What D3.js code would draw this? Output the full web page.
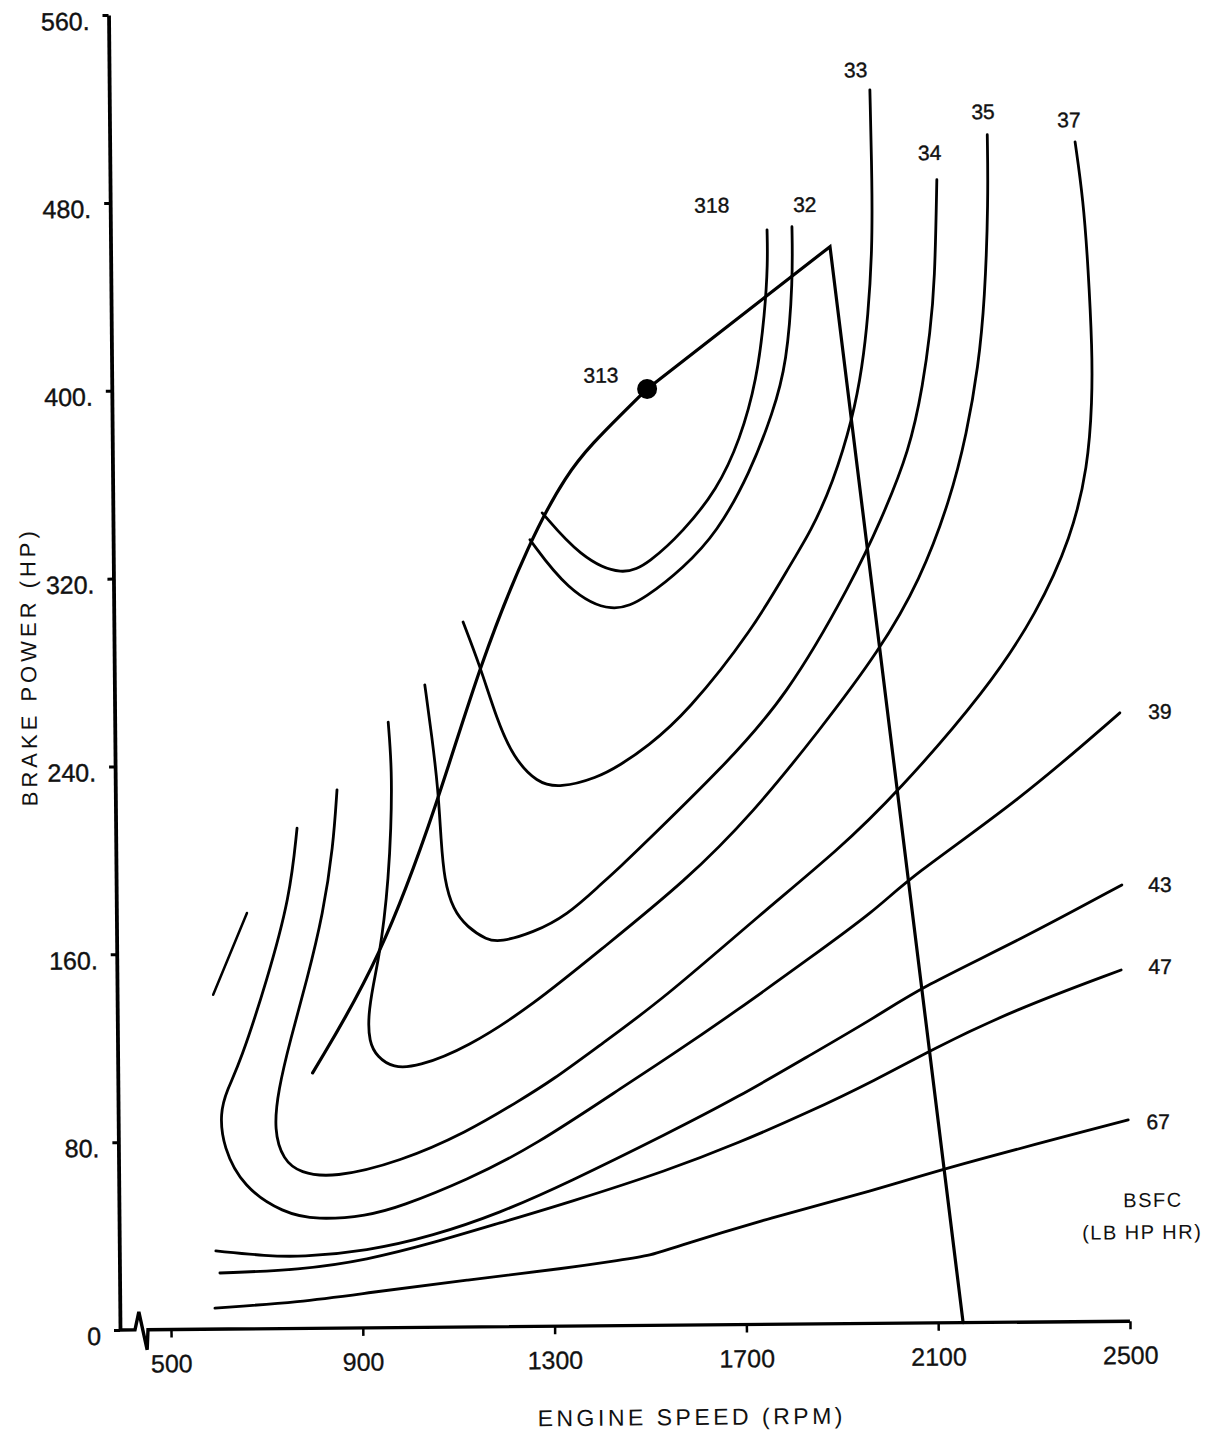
<!DOCTYPE html>
<html>
<head>
<meta charset="utf-8">
<script src="https://cdn.jsdelivr.net/npm/d3@7"></script>
<style>
html, body { margin: 0; padding: 0; background: #ffffff; }
svg { display: block; }
text { font-family: "Liberation Sans", Arial, Helvetica, sans-serif; fill: #111; }
</style>
</head>
<body>
<svg id="chart" width="1215" height="1435"></svg>
<script>
// ---------------- DATA (engine speed in RPM, brake power in HP) ----------------
const xTicks = [500, 900, 1300, 1700, 2100, 2500];
const yTicks = [0, 80, 160, 240, 320, 400, 480, 560];

const bsfcLabels = ["318", "32", "33", "34", "35", "37", "39", "43", "47", "67"];

const c318 = [[1289,346.4],[1367,327.5],[1456,318.8],[1513,325],[1582,337.8],[1654,355.6],
  [1703,376.8],[1739,402.2],[1757,430.7],[1764,452],[1763,466.1]];
const c32 = [[1263,335],[1339,313.5],[1435,302.7],[1506,310.2],[1582,322.4],[1653,337.2],
  [1723,362.7],[1772,388.2],[1802,409.3],[1816,444.7],[1815,467.3]];
const c33 = [[1122,300.2],[1157,281.1],[1191,258.4],[1224,242.5],[1273,231.4],[1321,229.2],
  [1398,233.3],[1447,238.7],[1503,246.3],[1587,260.7],[1726,295.8],[1811,325.4],[1847,336.8],
  [1896,358],[1939,386.1],[1959,407.3],[1972,428.6],[1982,457.2],[1983,485.7],[1980,525.3]];
const c34 = [[1041,273.6],[1055,251.4],[1067,228.8],[1072,207.5],[1078,190.5],[1096,177.7],
  [1125,170.3],[1166,164.7],[1193,163.8],[1262,167.6],[1334,175],[1403,187.7],[1445,195.3],
  [1508,207.5],[1655,236.3],[1796,267.1],[1936,316.7],[1993,340.9],[2057,371.9],[2086,400.3],
  [2101,421.6],[2112,442.9],[2118,486.8]];
const c35 = [[964,257.9],[971,237.5],[968,212],[961,190.7],[952,173.6],[941,158.7],[928,146],
  [917,133.3],[918,121.8],[935,115.3],[968,110.6],[1018,110.9],[1122,118.8],[1261,136.9],
  [1402,160],[1584,189.6],[1723,217.8],[1864,252.9],[1991,286.8],[2076,316.4],[2140,350.4],
  [2176,378.8],[2201,406.9],[2216,435.5],[2225,478.1],[2224,505.8]];
const c37 = [[856,229.2],[847,204.9],[825,176.8],[790,148.4],[754,122.9],[728,101.6],[718,84.6],
  [737,71.8],[772,66.2],[841,63.9],[981,70.6],[1121,83],[1226,95.6],[1301,104.9],[1400,119.6],
  [1530,138.5],[1740,175.2],[1900,201.7],[2024,225.8],[2213,269.4],[2319,302],[2392,334],
  [2428,364],[2438,392.5],[2439,413.8],[2432,449.1],[2423,477.7],[2407,502.4]];
const c39 = [[772,213.1],[756,183.8],[707,148.6],[649,113.3],[621,101.8],[606,92],[612,77.5],
  [653,60.4],[736,49.2],[807,46.1],[911,47.7],[980,51.4],[1120,62.6],[1258,76.4],[1462,103.7],
  [1544,114.3],[1688,134],[1833,155],[1978,176.1],[2047,189.6],[2280,222.4],[2490,259.1]];
const c43 = [[595,33.3],[702,31],[770,30.4],[910,32.7],[1048,38.9],[1188,48.4],[1329,60.9],
  [1542,81.9],[1687,96.9],[1831,113.7],[1976,130.5],[2072,143.1],[2278,162.8],[2491,185.8]];
const c47 = [[603,23.9],[770,24.9],[910,28.9],[1048,35.9],[1188,44.2],[1328,52.4],[1542,66.1],
  [1686,77.3],[1830,89.8],[1975,103.7],[2090,116.3],[2264,133],[2488,149.6]];
const c67 = [[592,9],[770,11.2],[910,14.9],[1118,20],[1327,24.7],[1438,27.9],[1505,29.9],
  [1540,32.5],[1756,45.7],[1973,56.8],[2117,65.9],[2500,85.7]];

// short unlabeled contour fragment at low speed
const fragment = [[594,142.4],[666,177.1]];

// full-load (maximum power) line: rising part, then straight part to the peak and down
const fullLoadRise = [[800,108.8],[943,156.6],[1066,223.3],[1157,282.7],[1263,335],
  [1342,363.3],[1396,376],[1459,388.7],[1510,398.8]];
const fullLoadTop = [[1510,398.8],[1894,458.7],[2152,0]];

// minimum BSFC point
const bestPoint = [1510, 398.8];
const bestLabel = "313";

// ---------------- LAYOUT ----------------
const contours = [c318, c32, c33, c34, c35, c37, c39, c43, c47, c67];
// label offsets (pixels) from the labelled end of each contour
const labelOffsets = [[-55,-25],[13,-22],[-14,-20],[-7,-27],[-4,-23],[-6,-22],
  [40,-1],[38,0],[39,-3],[30,2]];

const svg = d3.select("#chart");
const x = d3.scaleLinear().domain([500, 2500]).range([171, 1130]);
const y = d3.scaleLinear().domain([0, 560]).range([1330, 15]);
const x0 = x.range()[0] - 51;   // axis corner
const yb = y(0);

// slight tilt of the whole figure, as in the scanned original
const g = svg.append("g").attr("transform", `rotate(-0.5, ${x0}, ${yb})`);

const smooth = d3.line().x(d => x(d[0])).y(d => y(d[1])).curve(d3.curveBasis);
const straight = d3.line().x(d => x(d[0])).y(d => y(d[1]));

const FONT = '"Liberation Sans", Arial, sans-serif';

// ---- axes ----
const yAxis = d3.axisLeft(y).tickValues(yTicks).tickSize(6).tickSizeOuter(0).tickPadding(13)
  .tickFormat(d => d === 0 ? "0" : d + ".");
const ya = g.append("g").attr("transform", `translate(${x0},0)`).call(yAxis)
  .attr("font-family", FONT).attr("font-size", 25);
ya.select(".domain").attr("stroke", "#000").attr("stroke-width", 3.8);
ya.selectAll(".tick line").attr("stroke", "#000").attr("stroke-width", 3);
ya.selectAll(".tick text").attr("dy", "0.57em").attr("fill", "#111")
  .attr("stroke", "#111").attr("stroke-width", 0.4);

const xAxis = d3.axisBottom(x).tickValues(xTicks).tickSize(8).tickSizeOuter(0).tickPadding(17)
  .tickFormat(d3.format("d"));
const xa = g.append("g").attr("transform", `translate(0,${yb})`).call(xAxis)
  .attr("font-family", FONT).attr("font-size", 25);
xa.select(".domain").remove();
xa.selectAll(".tick line").attr("stroke", "#000").attr("stroke-width", 2.5);
xa.selectAll(".tick text").attr("fill", "#111").attr("stroke", "#111").attr("stroke-width", 0.3);

// x axis line with break symbol near the origin
g.append("path")
  .attr("d", d3.line()([[x0 - 1, yb], [x0 + 15, yb], [x0 + 19, yb - 18], [x0 + 27, yb + 20],
                        [x0 + 28, yb], [x(2500), yb]]))
  .attr("fill", "none").attr("stroke", "#000").attr("stroke-width", 3.4)
  .attr("stroke-linejoin", "miter");

// ---- contours ----
g.selectAll("path.contour").data(contours).join("path")
  .attr("class", "contour")
  .attr("d", smooth)
  .attr("fill", "none").attr("stroke", "#000").attr("stroke-width", 2.8)
  .attr("stroke-linecap", "round").attr("stroke-linejoin", "round");

g.append("path").attr("d", straight(fragment))
  .attr("fill", "none").attr("stroke", "#000").attr("stroke-width", 2.5).attr("stroke-linecap", "round");

// ---- full-load line ----
g.append("path").attr("d", smooth(fullLoadRise))
  .attr("fill", "none").attr("stroke", "#000").attr("stroke-width", 3.2).attr("stroke-linecap", "round");
g.append("path").attr("d", straight(fullLoadTop))
  .attr("fill", "none").attr("stroke", "#000").attr("stroke-width", 3.2)
  .attr("stroke-linejoin", "miter").attr("stroke-linecap", "round");

// ---- best point ----
g.append("circle").attr("cx", x(bestPoint[0])).attr("cy", y(bestPoint[1])).attr("r", 10).attr("fill", "#000");
g.append("text").attr("x", x(bestPoint[0]) - 46).attr("y", y(bestPoint[1]) - 14)
  .attr("dy", "0.35em").attr("text-anchor", "middle").attr("font-size", 21)
  .attr("stroke", "#111").attr("stroke-width", 0.4).text(bestLabel);

// ---- contour labels ----
g.selectAll("text.clabel").data(contours).join("text")
  .attr("class", "clabel")
  .attr("x", (d, i) => x(d[d.length - 1][0]) + labelOffsets[i][0])
  .attr("y", (d, i) => y(d[d.length - 1][1]) + labelOffsets[i][1])
  .attr("dy", "0.35em").attr("text-anchor", "middle").attr("font-size", 21)
  .attr("stroke", "#111").attr("stroke-width", 0.4)
  .text((d, i) => bsfcLabels[i]);

// ---- legend note ----
g.append("text").attr("x", x(2500) + 24).attr("y", yb - 114)
  .attr("text-anchor", "middle").attr("font-size", 20).attr("letter-spacing", 1.5).text("BSFC");
g.append("text").attr("x", x(2500) + 13).attr("y", yb - 82)
  .attr("text-anchor", "middle").attr("font-size", 20).attr("letter-spacing", 1.5).text("(LB HP HR)");

// ---- axis titles ----
g.append("text").attr("x", 691).attr("y", 1430)
  .attr("text-anchor", "middle").attr("font-size", 23).attr("letter-spacing", 3.5)
  .text("ENGINE SPEED (RPM)");
g.append("text").attr("transform", "translate(42,666) rotate(-90)")
  .attr("text-anchor", "middle").attr("font-size", 22).attr("letter-spacing", 4)
  .text("BRAKE POWER (HP)");
</script>
</body>
</html>
